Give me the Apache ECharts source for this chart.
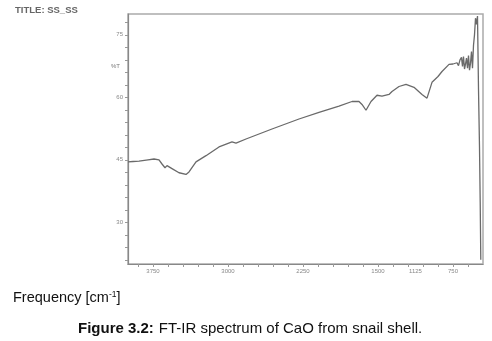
<!DOCTYPE html>
<html>
<head>
<meta charset="utf-8">
<style>
  html, body { margin: 0; padding: 0; background: #fff; }
  #chart-container { width: 492px; height: 341px; }
</style>
<script src="https://cdn.jsdelivr.net/npm/echarts@6/dist/echarts.min.js"></script>
</head>
<body>
<div id="chart-container"></div>
<script>
// wavenumber (cm-1) and %T
var wavenumbers = [4000, 3950, 3890, 3800, 3740, 3690, 3660, 3630, 3610, 3560, 3490, 3420, 3390, 3320,
  3220, 3090, 2960, 2920, 2820, 2690, 2560, 2290, 2090, 1890, 1760, 1690, 1660, 1620, 1570, 1510,
  1460, 1390, 1360, 1290, 1220, 1140, 1060, 1010, 960, 900, 860, 790, 750, 710, 695, 680, 665, 655,
  645, 635, 625, 615, 605, 595, 585, 575, 565, 555, 545, 535, 525, 515, 505, 495, 485, 478, 472];
var transmittance = [44.5, 44.6, 44.7, 45.0, 45.2, 45.0, 44.0, 43.1, 43.6, 42.9, 41.9, 41.5, 42.1, 44.5,
  46.0, 48.1, 49.3, 49.0, 50.0, 51.2, 52.4, 54.8, 56.4, 57.9, 59.0, 59.0, 58.3, 56.9, 59.0, 60.5,
  60.3, 60.7, 61.4, 62.6, 63.1, 62.4, 60.7, 59.8, 63.6, 65.0, 66.2, 67.9, 68.0, 68.3, 67.6, 69.0, 69.6, 67.4,
  69.8, 66.8, 68.0, 69.4, 67.0, 70.0, 66.5, 68.2, 71.0, 67.0, 72.5, 75.0, 79.0, 77.5, 79.5, 62, 48, 35, 21];

var xLabels = [3750, 3000, 2250, 1500, 1125, 750];
var yLabels = [30, 45, 60, 75];

var xTicks = [];
for (var w = 3900; w >= 600; w -= 150) xTicks.push(w);
var yTicks = [];
for (var t = 21; t <= 78; t += 3) yTicks.push(t);

var data = wavenumbers.map(function (w, i) { return [w, transmittance[i]]; });

var dom = document.getElementById('chart-container');
var myChart = echarts.init(dom, null, { renderer: 'canvas' });

var option = {
  animation: false,
  backgroundColor: '#fff',
  title: [
    {
      text: 'TITLE: SS_SS',
      left: 15, top: 5, padding: 0,
      textStyle: { fontSize: 9.5, fontWeight: 'bold', color: '#666', fontFamily: 'Liberation Sans' }
    },
    {
      text: '{n|Frequency [cm}{s|-1}{n|]}',
      left: 13, top: 290, padding: 0,
      textStyle: {
        fontWeight: 'normal',
        rich: {
          n: { fontSize: 14.5, fontWeight: 'normal', color: '#111', fontFamily: 'Liberation Sans' },
          s: { fontSize: 8.5, fontWeight: 'normal', color: '#111', fontFamily: 'Liberation Sans', verticalAlign: 'top', padding: [0, 0, 7, 0] }
        }
      }
    },
    {
      text: '{b|Figure 3.2:} {n|FT-IR spectrum of CaO from snail shell.}',
      left: 78, top: 320, padding: 0,
      textStyle: {
        fontWeight: 'normal',
        rich: {
          b: { fontSize: 15, fontWeight: 'bold', color: '#111', fontFamily: 'Liberation Sans' },
          n: { fontSize: 15, fontWeight: 'normal', color: '#111', fontFamily: 'Liberation Sans' }
        }
      }
    }
  ],
  graphic: [
    {
      type: 'text', left: 111, top: 63,
      style: { text: '%T', fontSize: 6, fill: '#777', fontFamily: 'Liberation Sans' }
    }
  ],
  grid: {
    left: 128, right: 9, top: 14, bottom: 77,
    show: true, borderColor: '#aaa', borderWidth: 1.5
  },
  xAxis: {
    type: 'value',
    inverse: true,
    min: 450, max: 4000,
    axisLine: { lineStyle: { color: '#888', width: 1.2 } },
    axisTick: { show: true, length: 3, inside: false, customValues: xTicks, lineStyle: { color: '#999' } },
    axisLabel: {
      customValues: xLabels, fontSize: 6, color: '#888', margin: 4, fontFamily: 'Liberation Sans',
      formatter: function (v) { return String(v); }
    },
    splitLine: { show: false }
  },
  yAxis: {
    type: 'value',
    min: 20, max: 80,
    axisLine: { show: true, lineStyle: { color: '#888', width: 1.2 } },
    axisTick: { show: true, length: 3, customValues: yTicks, lineStyle: { color: '#999' } },
    axisLabel: { customValues: yLabels, fontSize: 6, color: '#888', margin: 5, fontFamily: 'Liberation Sans' },
    splitLine: { show: false }
  },
  series: [
    {
      type: 'line',
      showSymbol: false,
      lineStyle: { width: 1.3, color: '#6a6a6a' },
      data: data
    }
  ]
};

myChart.setOption(option);
</script>
</body>
</html>
